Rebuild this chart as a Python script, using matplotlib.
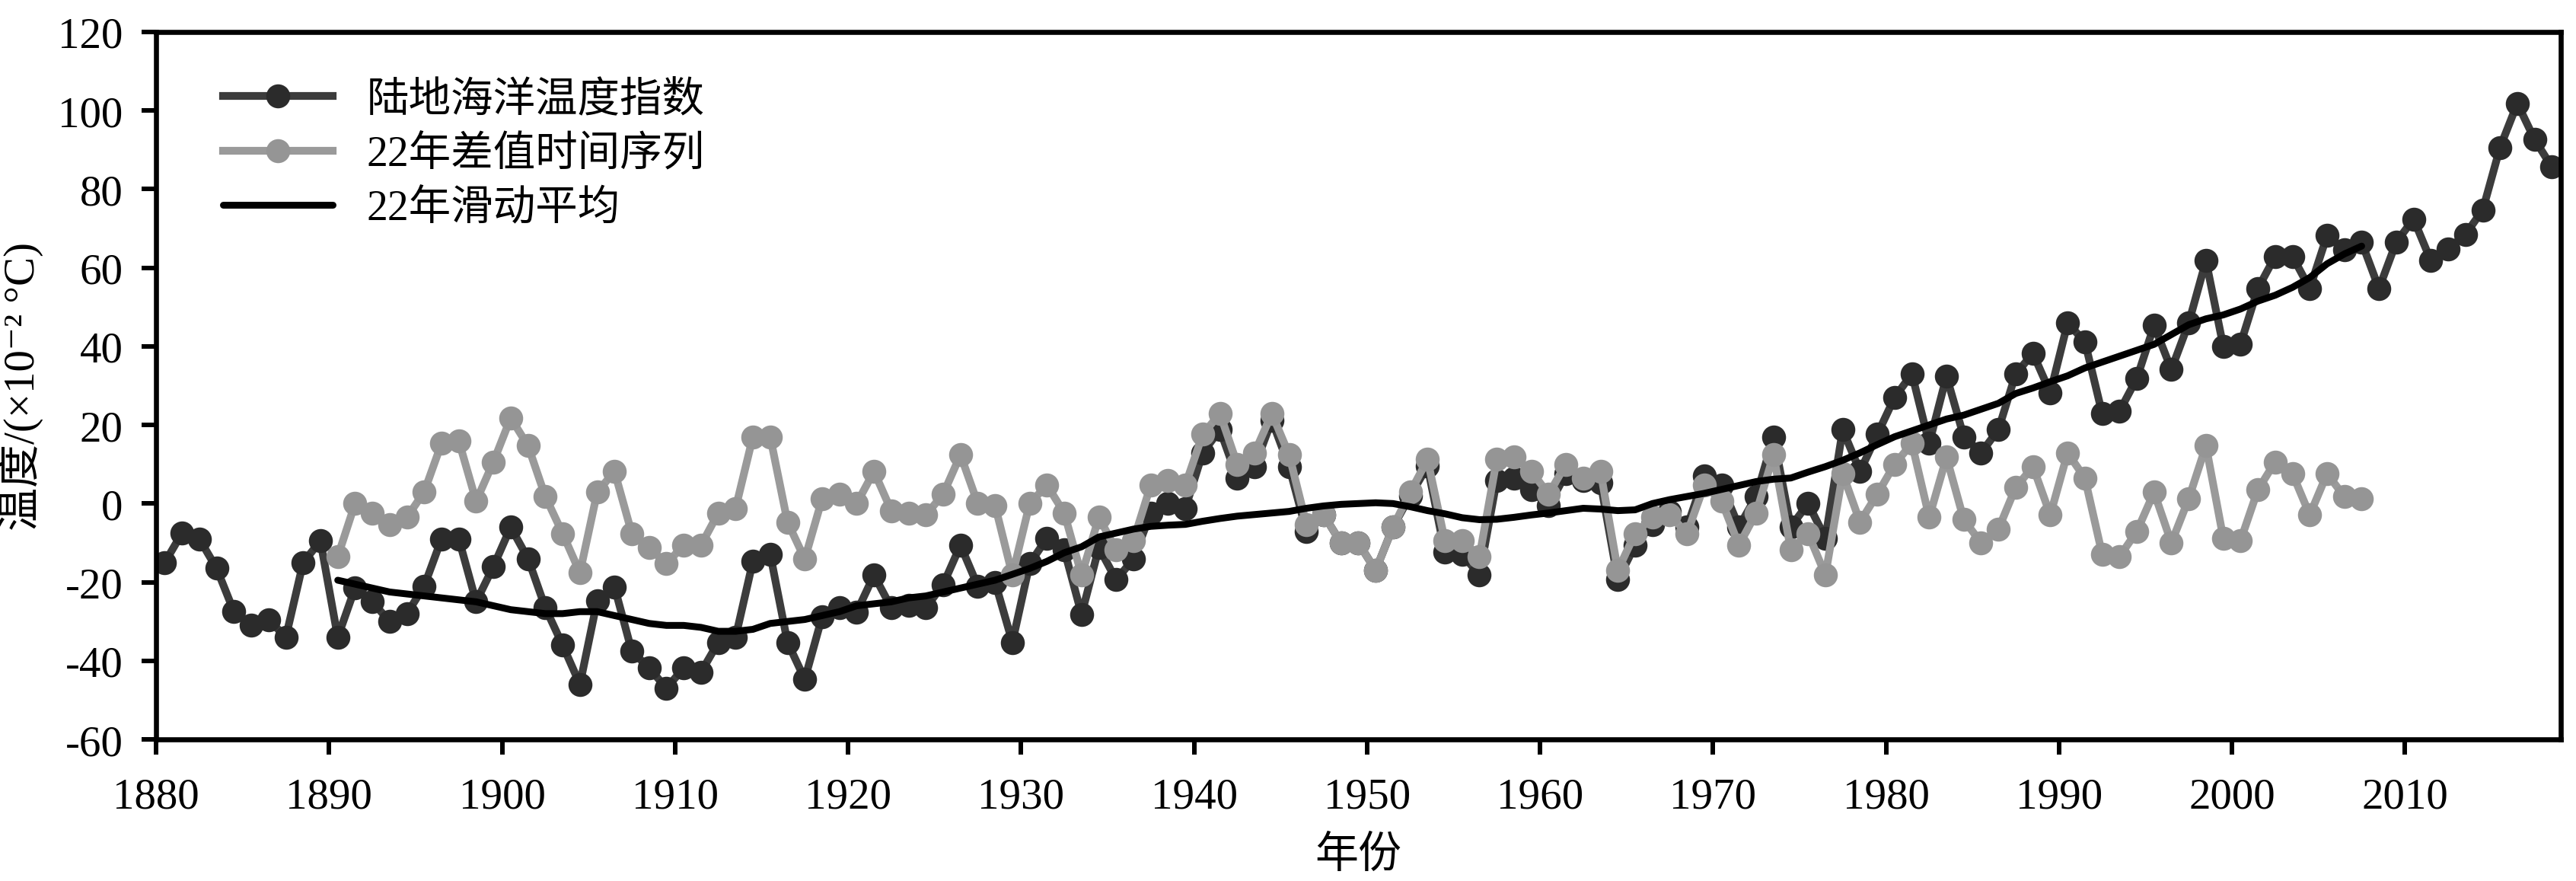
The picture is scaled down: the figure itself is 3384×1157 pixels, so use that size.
import numpy as np
import matplotlib
matplotlib.use("Agg")
import matplotlib.pyplot as plt

plt.rcParams['font.family'] = ['Liberation Serif', 'Noto Sans CJK SC', 'DejaVu Sans']
plt.rcParams['axes.unicode_minus'] = False

# Land-ocean temperature index, 1880-2018 (unit: 0.01 °C)
index_start = 1880
land_ocean = [
    -15, -7.5, -9, -16.5, -27.5, -31, -29.5, -34, -15, -9.5,            # 1880s
    -34, -21.5, -25, -30, -28, -21, -9, -9, -25, -16,                   # 1890s
    -6, -14, -26.5, -36, -46, -24.7, -21.2, -37.6, -41.8, -47,          # 1900s
    -41.8, -42.9, -35.3, -34, -14.7, -12.9, -35.3, -44.7, -28.8, -26.5, # 1910s
    -27.6, -18.2, -26.5, -25.9, -26.5, -20.6, -10.6, -21, -20, -35.3,   # 1920s
    -15.3, -8.8, -11.8, -28.2, -11.2, -19.4, -14.1, -2.4, 0, -1.2,      # 1930s
    12.9, 18.8, 6.5, 9.4, 21.2, 9.4, -7.1, -2.9, -10, -10,              # 1940s
    -17, -6, 2, 9.5, -12.4, -12.9, -18.2, 5.9, 6.5, 3.5,                # 1950s
    -0.6, 7.6, 5.9, 5.3, -19.4, -10.6, -5.3, -2, -6, 7,                 # 1960s
    4.7, -5.9, 1.8, 17, -5.9, 0, -8.8, 18.8, 8.2, 17.6,                 # 1970s
    27, 33, 15.3, 32.4, 17, 12.9, 18.8, 33, 38.2, 28.2,                 # 1980s
    45.9, 41.2, 22.9, 23.5, 31.8, 45.3, 34.1, 45.9, 61.8, 40,           # 1990s
    40.6, 54.7, 62.9, 62.9, 54.7, 68.2, 64.5, 66.5, 54.7, 66.5,         # 2000s
    72.4, 61.8, 64.7, 68.5, 74.7, 90.6, 101.8, 92.6, 85.6,              # 2010s
]

# 22-year difference series and 22-year moving average, 1890-2007
diff_start = 1890
diff_22 = [
    -13.5, 0, -2.4, -5.3, -3.5, 3, 15.3, 15.9, 0.6, 10.6,
    21.8, 14.7, 1.8, -7.6, -17.6, 2.9, 8.2, -7.6, -11.2, -15.3,
    -10.6, -10.6, -2.4, -1.2, 17, 17, -4.7, -14.1, 1.2, 2.4,
    0, 8.2, -1.8, -2.4, -2.9, 2.4, 12.4, 0, -0.5, -18.2,
    0, 4.7, -2.4, -18.2, -3.5, -11.8, -9.4, 4.7, 5.9, 4.7,
    17.6, 22.9, 10, 12.9, 22.9, 12.4, -5.3, -2.9, -10, -10,
    -17, -6, 2.9, 11.2, -9.4, -9.4, -13.5, 11.2, 11.8, 8.2,
    2.4, 10, 6.5, 8.2, -17, -7.6, -3.5, -2.9, -7.6, 4.7,
    0.6, -10.6, -2.4, 12.4, -11.8, -7.6, -18.2, 7.6, -4.7, 2.4,
    10, 15.3, -3.5, 11.8, -4.1, -10, -6.5, 4.1, 9.4, -2.9,
    12.9, 6.5, -12.9, -13.5, -7.1, 2.9, -10, 1.2, 14.7, -8.8,
    -9.4, 3.5, 10.6, 7.6, -2.9, 7.6, 1.8, 1.2,
]
moving_avg_22 = [
    -19.5, -20.5, -21.5, -22.5, -23, -23.5, -24, -24.5, -25, -26,
    -27, -27.5, -28, -28, -27.5, -27.5, -28.5, -29.5, -30.5, -31,
    -31, -31.5, -32.5, -32.5, -32, -30.5, -30, -29.5, -28.5, -27.5,
    -26, -25.5, -25, -24, -23.5, -22.5, -21.5, -20.5, -19.5, -18,
    -16.5, -14.7, -12.5, -11, -8.5, -7.5, -6.5, -5.8, -5.5, -5.3,
    -4.5, -3.8, -3.2, -2.8, -2.4, -2, -1.2, -0.6, -0.2, 0,
    0.2, 0, -0.8, -1.8, -2.6, -3.6, -4.1, -4, -3.5, -2.9,
    -2.4, -1.8, -1.2, -1.4, -1.8, -1.6, 0, 1, 1.8, 2.6,
    3.6, 4.6, 5.6, 6.2, 6.5, 8, 9.4, 11, 12.9, 15,
    17, 18.5, 20, 21.5, 22.5, 24, 25.5, 28, 29.4, 31,
    32.5, 34.5, 36, 37.5, 39, 40.5, 43, 45.5, 47, 48,
    49.5, 51.5, 53, 55, 57.5, 61, 63.5, 65.5,
]

labels = ['陆地海洋温度指数', '22年差值时间序列', '22年滑动平均']
xticks = list(range(1880, 2011, 10))
yticks = list(range(-60, 121, 20))

# annual values are drawn at mid-year
years_all = np.arange(index_start, index_start + len(land_ocean)) + 0.5
years_diff = np.arange(diff_start, diff_start + len(diff_22)) + 0.5
years_ma = np.arange(diff_start, diff_start + len(moving_avg_22)) + 0.5

fig = plt.figure(figsize=(15.667, 5.361), dpi=216)
ax = fig.add_axes([0.0606, 0.1606, 0.9334, 0.8024])

ax.plot(years_all, land_ocean, color='#3c3c3c', lw=3.4, marker='o', ms=9.5,
        mfc='#2b2b2b', mec='#2b2b2b', label=labels[0], zorder=2)
ax.plot(years_diff, diff_22, color='#9a9a9a', lw=3.4, marker='o', ms=9.5,
        mfc='#959595', mec='#959595', label=labels[1], zorder=3)
ax.plot(years_ma, moving_avg_22, color='black', lw=3.0, label=labels[2],
        solid_capstyle='round', zorder=4)

ax.set_xlim(1880, 2019)
ax.set_ylim(-60, 120)
ax.set_xticks(xticks)
ax.set_yticks(yticks)
ax.tick_params(direction='out', length=6.5, width=2, labelsize=19, pad=8)
ax.tick_params(axis='x', pad=10)
for s in ax.spines.values():
    s.set_linewidth(2.2)

ax.set_xlabel('年份', fontsize=19, labelpad=8)
ax.set_ylabel('温度/(×10⁻² °C)', fontsize=19, labelpad=6)

leg = ax.legend(loc='upper left', bbox_to_anchor=(0.012, 0.985), frameon=False,
                fontsize=18.5, numpoints=1, handlelength=2.6, handletextpad=0.8,
                labelspacing=0.35)

fig.savefig('out.png', dpi=216)
